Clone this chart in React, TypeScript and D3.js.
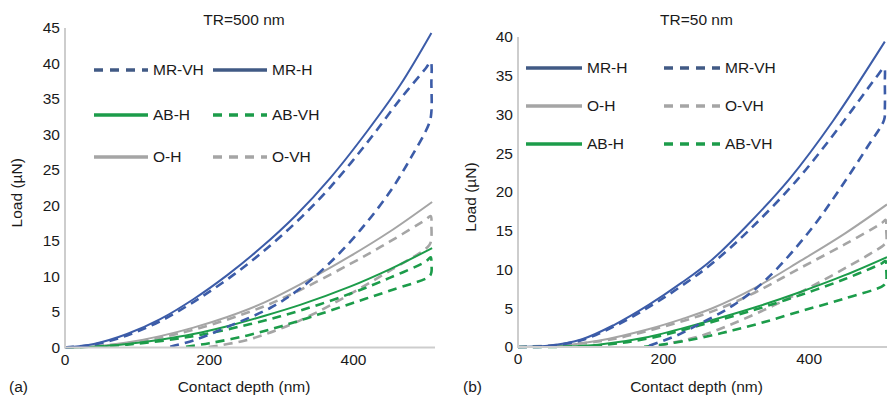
import React from "react";
import * as d3 from "d3";

// ---------- Panel (a) TR=500 nm : [contact depth (nm), load (µN)] ----------
const a_MR_H: [number, number][] = [[0, 0], [40, 0.5], [86, 1.9], [132, 4.0], [178, 6.8], [225, 10.2], [271, 14.0], [320, 18.6], [368, 23.9], [420, 30.6], [465, 37.0], [508, 44.3]];
const a_MR_VH: [number, number][] = [[0, 0], [40, 0.4], [86, 1.7], [132, 3.7], [178, 6.4], [225, 9.6], [271, 13.2], [320, 17.6], [368, 22.6], [420, 29.0], [465, 35.0], [500, 39.3], [507, 40.2], [508, 37], [508, 33.2], [505, 31.6], [480, 26.8], [451, 22.0], [410, 16.6], [368, 12.0], [326, 8.3], [285, 5.6], [225, 2.9], [178, 1.0], [141, 0]];
const a_O_H: [number, number][] = [[0, 0], [40, 0.15], [86, 0.7], [132, 1.6], [178, 2.8], [225, 4.3], [271, 6.1], [326, 8.9], [396, 12.9], [450, 16.3], [509, 20.5]];
const a_O_VH: [number, number][] = [[0, 0], [86, 0.6], [178, 2.5], [271, 5.6], [326, 8.1], [396, 11.8], [450, 14.9], [500, 18.0], [507, 18.5], [508, 17], [508, 15.6], [505, 14.4], [450, 10.8], [400, 7.8], [350, 5.0], [300, 2.7], [250, 1.0], [195, 0]];
const a_AB_H: [number, number][] = [[0, 0], [40, 0.1], [86, 0.5], [132, 1.1], [178, 1.9], [225, 3.0], [271, 4.3], [326, 6.0], [396, 8.6], [450, 11.0], [509, 14.0]];
const a_AB_VH: [number, number][] = [[0, 0], [86, 0.4], [178, 1.6], [257, 3.3], [326, 5.2], [396, 7.6], [450, 9.8], [500, 12.1], [507, 12.7], [508, 11.8], [508, 10.6], [505, 10.0], [450, 8.0], [400, 6.3], [350, 4.6], [300, 3.0], [253, 1.7], [200, 0.6], [160, 0]];

// ---------- Panel (b) TR=50 nm ----------
const b_MR_H: [number, number][] = [[0, 0], [41, 0.15], [88, 1.0], [133, 2.9], [179, 5.4], [225, 8.3], [267, 11.3], [320, 16.2], [374, 21.8], [433, 29.2], [504, 39.4]];
const b_MR_VH: [number, number][] = [[0, 0], [41, 0.1], [88, 0.9], [133, 2.7], [179, 5.1], [225, 7.9], [267, 10.8], [320, 15.3], [383, 21.5], [440, 28.2], [493, 34.9], [503, 36.0], [504, 34], [504, 30.6], [503, 29.3], [480, 25.8], [443, 20.5], [401, 15.0], [342, 8.8], [296, 5.4], [250, 3.0], [216, 1.4], [175, 0]];
const b_O_H: [number, number][] = [[0, 0], [50, 0.1], [110, 0.8], [179, 2.3], [225, 3.6], [267, 5.0], [325, 7.6], [388, 11.1], [450, 14.7], [507, 18.4]];
const b_O_VH: [number, number][] = [[0, 0], [110, 0.7], [179, 2.1], [267, 4.6], [325, 7.0], [388, 10.2], [450, 13.3], [500, 16.0], [505, 16.4], [506, 15], [506, 13.6], [503, 13.2], [450, 10.2], [397, 7.5], [350, 5.3], [300, 3.2], [250, 1.4], [200, 0.3], [185, 0]];
const b_AB_H: [number, number][] = [[0, 0], [60, 0.05], [110, 0.3], [179, 1.3], [260, 3.3], [325, 5.1], [388, 7.1], [450, 9.3], [507, 11.6]];
const b_AB_VH: [number, number][] = [[0, 0], [110, 0.2], [179, 1.1], [250, 2.8], [325, 4.8], [388, 6.7], [450, 8.8], [500, 10.8], [505, 11.1], [506, 10], [506, 8.6], [503, 8.0], [450, 6.3], [388, 4.6], [330, 3.0], [280, 1.8], [230, 0.8], [190, 0.2], [170, 0]];

// ---------- Ticks / labels ----------
const xTicks = [0, 200, 400];
const yTicksA = [0, 5, 10, 15, 20, 25, 30, 35, 40, 45];
const yTicksB = [0, 5, 10, 15, 20, 25, 30, 35, 40];
const titleA = "TR=500 nm";
const titleB = "TR=50 nm";
const xLabel = "Contact depth (nm)";
const yLabel = "Load (µN)";

const BLUE = "#3c5ca8";
const BLUE_LEG = "#415a85";
const GREEN = "#1c9c4a";
const GRAY = "#a5a5a5";
const FONT = "'Liberation Sans', Arial, sans-serif";

type Series = { name: string; data: [number, number][]; color: string; dashed: boolean };
type LegendItem = { name: string; color: string; dashed: boolean };

const seriesA: Series[] = [
  { name: "O-VH", data: a_O_VH, color: GRAY, dashed: true },
  { name: "O-H", data: a_O_H, color: GRAY, dashed: false },
  { name: "AB-VH", data: a_AB_VH, color: GREEN, dashed: true },
  { name: "AB-H", data: a_AB_H, color: GREEN, dashed: false },
  { name: "MR-VH", data: a_MR_VH, color: BLUE, dashed: true },
  { name: "MR-H", data: a_MR_H, color: BLUE, dashed: false },
];
const seriesB: Series[] = [
  { name: "O-VH", data: b_O_VH, color: GRAY, dashed: true },
  { name: "O-H", data: b_O_H, color: GRAY, dashed: false },
  { name: "AB-VH", data: b_AB_VH, color: GREEN, dashed: true },
  { name: "AB-H", data: b_AB_H, color: GREEN, dashed: false },
  { name: "MR-VH", data: b_MR_VH, color: BLUE, dashed: true },
  { name: "MR-H", data: b_MR_H, color: BLUE, dashed: false },
];

const legendA: LegendItem[][] = [
  [{ name: "MR-VH", color: BLUE_LEG, dashed: true }, { name: "MR-H", color: BLUE_LEG, dashed: false }],
  [{ name: "AB-H", color: GREEN, dashed: false }, { name: "AB-VH", color: GREEN, dashed: true }],
  [{ name: "O-H", color: GRAY, dashed: false }, { name: "O-VH", color: GRAY, dashed: true }],
];
const legendB: LegendItem[][] = [
  [{ name: "MR-H", color: BLUE_LEG, dashed: false }, { name: "MR-VH", color: BLUE_LEG, dashed: true }],
  [{ name: "O-H", color: GRAY, dashed: false }, { name: "O-VH", color: GRAY, dashed: true }],
  [{ name: "AB-H", color: GREEN, dashed: false }, { name: "AB-VH", color: GREEN, dashed: true }],
];

type PanelProps = {
  x: d3.ScaleLinear<number, number>;
  y: d3.ScaleLinear<number, number>;
  yTicks: number[];
  series: Series[];
  legend: LegendItem[][];
  legendX: [number, number];
  legendRowY: number[];
  legendLineW: number;
  title: string;
  tag: string;
  tagX: number;
  yLabelX: number;
};

function Panel(p: PanelProps) {
  const [x0, x1] = p.x.range();
  const [y0, y1] = p.y.range();
  const line = d3
    .line<[number, number]>()
    .x((d) => p.x(d[0]))
    .y((d) => p.y(d[1]))
    .curve(d3.curveCatmullRom.alpha(0.5));
  const cx = (x0 + x1) / 2;
  return (
    <g fontFamily={FONT} fill="#1a1a1a">
      {p.series.map((s) => (
        <path
          key={s.name}
          d={line(s.data) || ""}
          fill="none"
          stroke={s.color}
          strokeWidth={s.dashed ? 2.6 : 2}
          strokeDasharray={s.dashed ? "9,6" : undefined}
          strokeLinejoin="round"
        />
      ))}
      <line x1={x0} x2={x0} y1={y0 + 1} y2={y1} stroke="#cdcdcd" strokeWidth={2} />
      <line x1={x0} x2={x1} y1={y0} y2={y0} stroke="#cdcdcd" strokeWidth={2} />
      {p.yTicks.map((t) => (
        <text key={"y" + t} x={x0 - 5} y={p.y(t)} dy="0.35em" textAnchor="end" fontSize={15.5}>
          {t}
        </text>
      ))}
      {xTicks.map((t) => (
        <text key={"x" + t} x={p.x(t)} y={y0 + 17} textAnchor="middle" fontSize={15.5}>
          {t}
        </text>
      ))}
      <text x={cx - 6} y={25} textAnchor="middle" fontSize={15.5}>{p.title}</text>
      <text x={cx - 6} y={392} textAnchor="middle" fontSize={15.5}>{xLabel}</text>
      <text x={p.tagX} y={392} fontSize={15.5}>{p.tag}</text>
      <text
        transform={`translate(${p.yLabelX},${(y0 + y1) / 2 + 5}) rotate(-90)`}
        textAnchor="middle"
        fontSize={15.5}
      >
        {yLabel}
      </text>
      {p.legend.map((row, ri) =>
        row.map((it, ci) => {
          const lx = p.legendX[ci];
          const ly = p.legendRowY[ri];
          return (
            <g key={it.name}>
              <line
                x1={lx}
                x2={lx + p.legendLineW}
                y1={ly}
                y2={ly}
                stroke={it.color}
                strokeWidth={3.5}
                strokeDasharray={it.dashed ? "9,7" : undefined}
              />
              <text x={lx + p.legendLineW + 5} y={ly} dy="0.35em" fontSize={15.5}>
                {it.name}
              </text>
            </g>
          );
        })
      )}
    </g>
  );
}

export default function App() {
  const xA = d3.scaleLinear().domain([0, 513]).range([65, 435]);
  const yA = d3.scaleLinear().domain([0, 45]).range([347.5, 28]);
  const xB = d3.scaleLinear().domain([0, 507]).range([518, 887]);
  const yB = d3.scaleLinear().domain([0, 40]).range([347, 37]);
  return (
    <svg
      width={887}
      height={397}
      viewBox="0 0 887 397"
      style={{ position: "absolute", left: 0, top: 0, background: "#fff" }}
    >
      <rect width={887} height={397} fill="#fff" />
      <Panel
        x={xA}
        y={yA}
        yTicks={yTicksA}
        series={seriesA}
        legend={legendA}
        legendX={[94, 213]}
        legendRowY={[70, 115, 157]}
        legendLineW={54}
        title={titleA}
        tag="(a)"
        tagX={9}
        yLabelX={22}
      />
      <Panel
        x={xB}
        y={yB}
        yTicks={yTicksB}
        series={seriesB}
        legend={legendB}
        legendX={[526, 664]}
        legendRowY={[68, 106, 144]}
        legendLineW={56}
        title={titleB}
        tag="(b)"
        tagX={463}
        yLabelX={476}
      />
    </svg>
  );
}
